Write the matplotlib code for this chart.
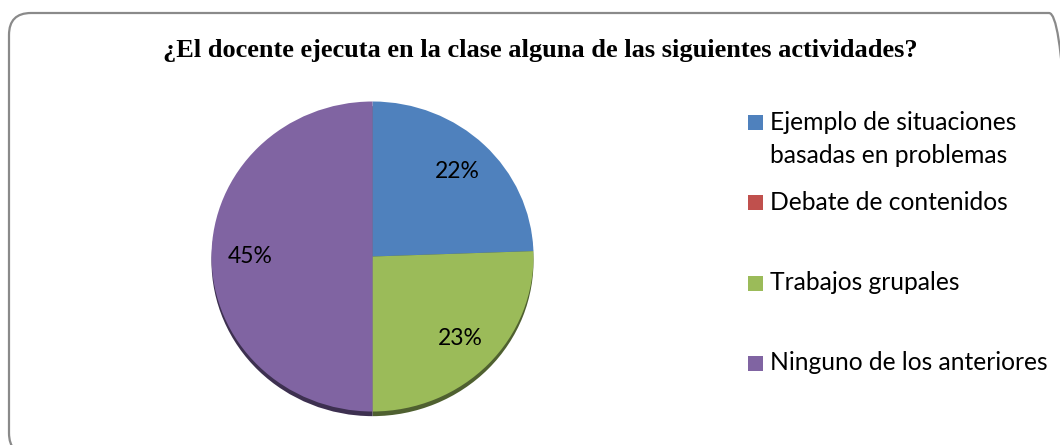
import matplotlib
matplotlib.use('Agg')
import matplotlib.pyplot as plt
from matplotlib.patches import FancyBboxPatch, Rectangle
from matplotlib.transforms import IdentityTransform

titulo = '¿El docente ejecuta en la clase alguna de las siguientes actividades?'
categorias = ['Ejemplo de situaciones\nbasadas en problemas', 'Debate de contenidos',
              'Trabajos grupales', 'Ninguno de los anteriores']
valores = [22, 0, 23, 45]

colores = ['#4F81BD', '#C0504D', '#9BBB59', '#8064A2']
sombras = ['#2c4a6e', '#6e2c2a', '#4f6030', '#3d3050']

W, H = 1060, 445
fig = plt.figure(figsize=(W / 100, H / 100), dpi=100)
fig.patch.set_facecolor('white')

# marco redondeado (en pixeles)
marco = FancyBboxPatch((9, -10), 1062, H - 13 + 10, boxstyle='round,pad=0,rounding_size=22',
                       transform=IdentityTransform(), fc='none', ec='#8a8a8a', lw=1.6)
fig.add_artist(marco)

fig.text(540 / W, 1 - 57 / H, titulo, ha='center', va='baseline',
         family='Liberation Serif', fontweight='bold', fontsize=19)

# pie: centro (372.5, 256.5) px, radios 161 x 155 px
cx, cy, rx, ry = 372.5, 256.5, 161, 155
ax = fig.add_axes([(cx - rx) / W, (H - cy - ry) / H, 2 * rx / W, 2 * ry / H])
total = sum(valores)

ax.pie(valores, colors=sombras, startangle=90, counterclock=False, center=(0, -0.03),
       wedgeprops=dict(linewidth=0))
ax.pie(valores, colors=colores, startangle=90, counterclock=False,
       autopct=lambda p: '%.0f%%' % (p * total / 100) if p > 0 else '',
       pctdistance=0.76, wedgeprops=dict(linewidth=0),
       textprops=dict(family='Lato', fontsize=16.5, color='black'))
ax.set_aspect('auto')
ax.set_xlim(-1, 1)
ax.set_ylim(-1, 1)
ax.axis('off')

# leyenda manual
ley_y = [122.5, 202.5, 283, 363]
for cat, col, y in zip(categorias, colores, ley_y):
    fig.add_artist(Rectangle((748 / W, 1 - (y + 7.5) / H), 15 / W, 15 / H,
                             transform=fig.transFigure, fc=col, ec='none'))
    for i, linea in enumerate(cat.split('\n')):
        fig.text(770 / W, 1 - (y + 7.5 + 33 * i) / H, linea, ha='left', va='baseline',
                 family='Lato', fontsize=17.7)

fig.savefig('out.png', dpi=100)
